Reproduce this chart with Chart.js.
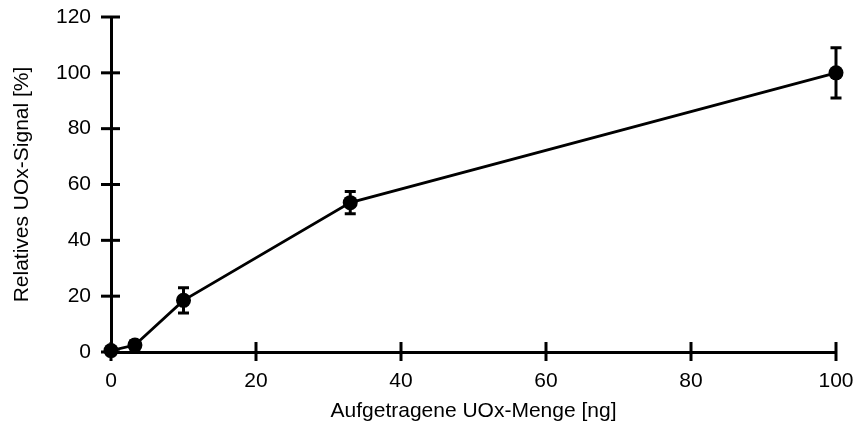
<!DOCTYPE html>
<html>
<head>
<meta charset="utf-8">
<script src="https://cdn.jsdelivr.net/npm/chart.js@4.4.1/dist/chart.umd.min.js"></script>
<style>
  html, body { margin: 0; padding: 0; background: #fff; }
  #wrap { width: 855px; height: 432px; }
</style>
</head>
<body>
<div id="wrap"><canvas id="c" width="855" height="432"></canvas></div>
<script>
// Applied UOx amount (ng) and relative signal (%) with error
const amountNg = [0, 3.3, 10, 33, 100];
const signalPct = [0.5, 2.5, 18.5, 53.5, 100];
const signalErr = [0.5, 1.5, 4.5, 4, 9];
const xTicks = [0, 20, 40, 60, 80, 100];
const yTicks = [0, 20, 40, 60, 80, 100, 120];

const FONT = "'Liberation Sans', Arial, sans-serif";
const FONT_SIZE = 21;

// Error bars with caps, drawn beneath the markers
const errorBars = {
  id: 'errorBars',
  beforeDatasetsDraw(chart) {
    const { ctx, scales: { x, y } } = chart;
    ctx.save();
    ctx.strokeStyle = '#000';
    ctx.lineWidth = 3;
    ctx.lineCap = 'butt';
    amountNg.forEach((v, i) => {
      const px = x.getPixelForValue(v);
      const top = y.getPixelForValue(signalPct[i] + signalErr[i]);
      const bot = y.getPixelForValue(signalPct[i] - signalErr[i]);
      ctx.beginPath();
      ctx.moveTo(px, top); ctx.lineTo(px, bot);
      ctx.moveTo(px - 5.5, top); ctx.lineTo(px + 5.5, top);
      ctx.moveTo(px - 5.5, bot); ctx.lineTo(px + 5.5, bot);
      ctx.stroke();
    });
    ctx.restore();
  }
};

// Tick marks that cross the axis lines
const crossTicks = {
  id: 'crossTicks',
  beforeDatasetsDraw(chart) {
    const { ctx, scales: { x, y }, chartArea } = chart;
    ctx.save();
    ctx.strokeStyle = '#000';
    ctx.lineWidth = 3;
    xTicks.forEach(t => {
      const px = x.getPixelForValue(t);
      ctx.beginPath();
      ctx.moveTo(px, chartArea.bottom - 10);
      ctx.lineTo(px, chartArea.bottom + 9);
      ctx.stroke();
    });
    yTicks.forEach(t => {
      const py = y.getPixelForValue(t);
      ctx.beginPath();
      ctx.moveTo(chartArea.left - 10, py);
      ctx.lineTo(chartArea.left + 9, py);
      ctx.stroke();
    });
    ctx.restore();
  }
};

new Chart(document.getElementById('c'), {
  type: 'scatter',
  data: {
    datasets: [{
      data: amountNg.map((v, i) => ({ x: v, y: signalPct[i] })),
      showLine: true,
      borderColor: '#000',
      borderWidth: 2.8,
      backgroundColor: '#000',
      pointRadius: 7.5,
      pointHoverRadius: 7.5,
      pointBorderWidth: 0,
      clip: false
    }]
  },
  options: {
    responsive: false,
    animation: false,
    events: [],
    layout: { padding: { top: 17, right: 19, bottom: 8.3, left: 9.6 } },
    plugins: { legend: { display: false }, tooltip: { enabled: false } },
    scales: {
      x: {
        type: 'linear', min: 0, max: 100,
        afterBuildTicks: s => { s.ticks = xTicks.map(v => ({ value: v })); },
        afterFit: s => { s.height = 71.7; s.paddingLeft = 0; s.paddingRight = 0; },
        grid: { display: false },
        border: { display: true, color: '#000', width: 3 },
        ticks: { color: '#000', padding: 9, maxRotation: 0, font: { family: FONT, size: FONT_SIZE } },
        title: { display: true, text: 'Aufgetragene UOx-Menge [ng]', color: '#000', padding: 0, font: { family: FONT, size: FONT_SIZE } }
      },
      y: {
        type: 'linear', min: 0, max: 120,
        afterBuildTicks: s => { s.ticks = yTicks.map(v => ({ value: v })); },
        afterFit: s => { s.width = 101.4; s.paddingTop = 0; s.paddingBottom = 0; },
        grid: { display: false },
        border: { display: true, color: '#000', width: 3 },
        ticks: { color: '#000', padding: 12, font: { family: FONT, size: FONT_SIZE } },
        title: { display: true, text: 'Relatives UOx-Signal [%]', color: '#000', padding: 0, font: { family: FONT, size: FONT_SIZE } }
      }
    }
  },
  plugins: [errorBars, crossTicks]
});
</script>
</body>
</html>
